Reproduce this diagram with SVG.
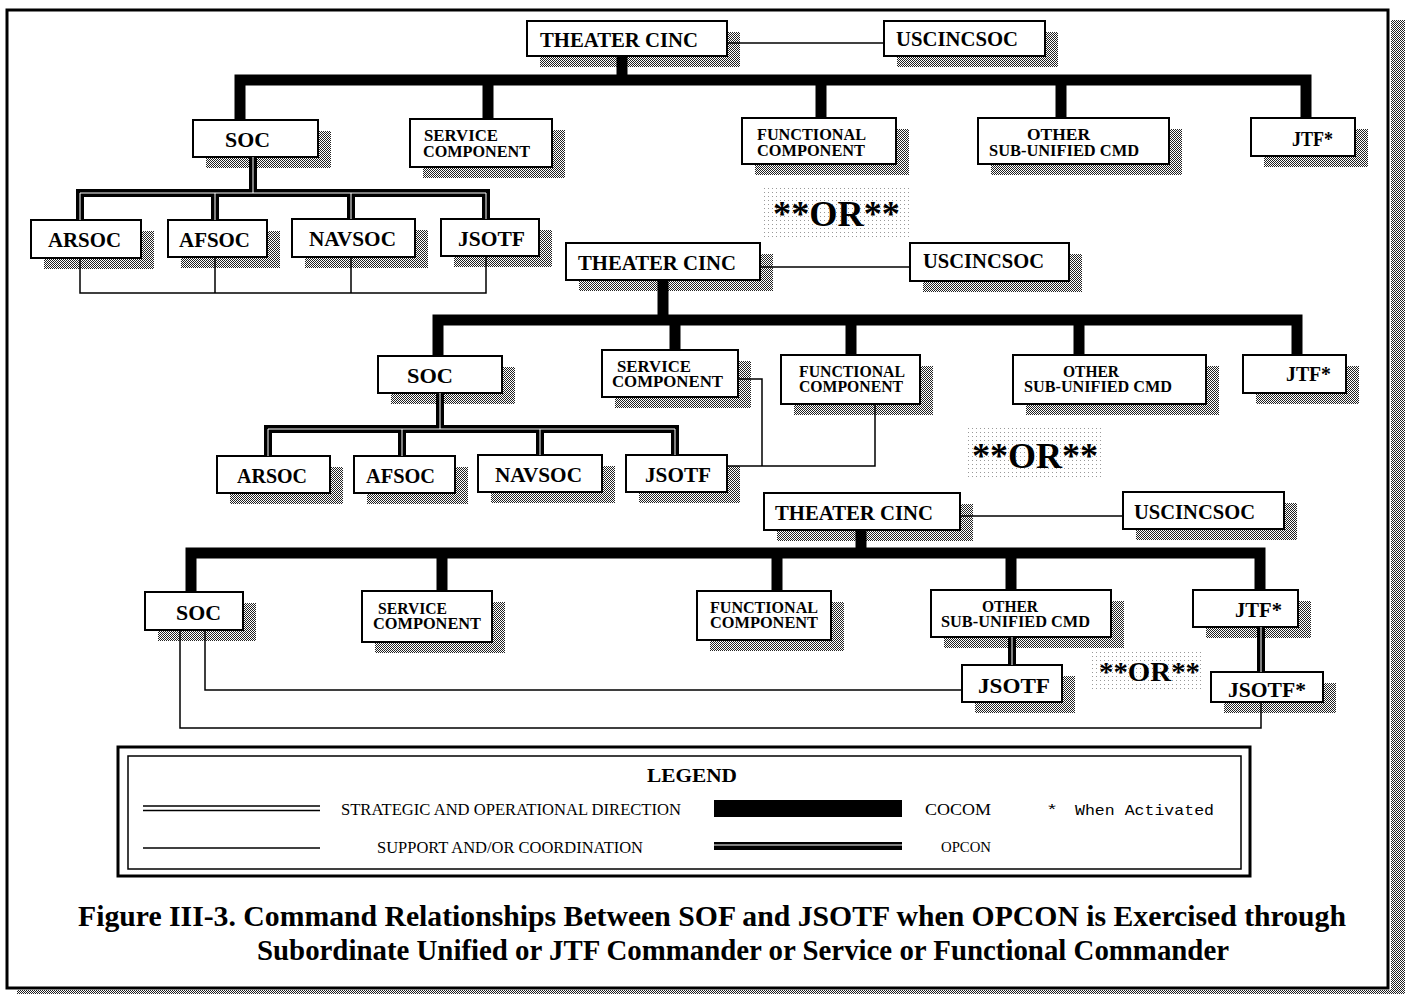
<svg xmlns="http://www.w3.org/2000/svg" width="1409" height="994" viewBox="0 0 1409 994">
<defs>
<pattern id="dither" width="2" height="2" patternUnits="userSpaceOnUse"><rect width="2" height="2" fill="#fff"/><rect width="1" height="1" fill="#222"/><rect x="1" y="1" width="1" height="1" fill="#222"/></pattern>
<pattern id="stip" width="4" height="4" patternUnits="userSpaceOnUse"><rect width="1" height="1" fill="#999"/></pattern>
<style>
.bx{fill:#fff;stroke:#000;stroke-width:2}
.sh{fill:url(#dither)}
.t{font-family:"Liberation Serif","Times New Roman",serif;font-weight:bold;fill:#000}
.big{font-size:22px}
.sm{font-size:16px}
.or{font-size:36px}
.lg{font-family:"Liberation Serif","Times New Roman",serif;font-size:16px;fill:#000}
.mono{font-family:"Liberation Mono","Courier New",monospace;font-size:15px;fill:#000}
.cocom{stroke:#000;stroke-width:11;fill:none;stroke-linejoin:miter}
.opk{stroke:#000;stroke-width:8;fill:none}
.opw{stroke:#fff;stroke-width:1;fill:none}
.sup{stroke:#000;stroke-width:1.5;fill:none}
</style>
</defs>
<rect width="1409" height="994" fill="#fff"/>
<g id="frame">
<rect x="1391" y="20" width="14" height="974" class="sh"/>
<rect x="17" y="990" width="1388" height="4" class="sh"/>
<rect x="7" y="10" width="1381" height="978" fill="none" stroke="#000" stroke-width="3"/>
</g>

<g id="or1"><rect x="764" y="187" width="145" height="53" fill="url(#stip)"/><text class="t or" x="773" y="226" textLength="127" lengthAdjust="spacingAndGlyphs">**OR**</text></g>
<g id="or2"><rect x="967" y="428" width="137" height="49" fill="url(#stip)"/><text class="t or" x="972" y="468" textLength="126" lengthAdjust="spacingAndGlyphs">**OR**</text></g>
<g id="or3"><rect x="1089" y="650" width="113" height="40" fill="url(#stip)"/><text class="t" style="font-size:28px" x="1099" y="681" textLength="101" lengthAdjust="spacingAndGlyphs">**OR**</text></g>

<g id="s1-theater"><rect class="sh" x="540" y="32" width="200" height="35"/><rect class="bx" x="527" y="21" width="200" height="35"/><text class="t big" x="540" y="47" textLength="158" lengthAdjust="spacingAndGlyphs">THEATER CINC</text></g>
<g id="s1-uscincsoc"><rect class="sh" x="897" y="32" width="161" height="35"/><rect class="bx" x="884" y="21" width="161" height="35"/><text class="t big" x="896" y="46" textLength="122" lengthAdjust="spacingAndGlyphs">USCINCSOC</text></g>
<g id="s1-soc"><rect class="sh" x="206" y="131" width="125" height="37"/><rect class="bx" x="193" y="120" width="125" height="37"/><text class="t big" x="225" y="147" textLength="45" lengthAdjust="spacingAndGlyphs">SOC</text></g>
<g id="s1-service"><rect class="sh" x="423" y="130" width="142" height="48"/><rect class="bx" x="410" y="119" width="142" height="48"/><text class="t sm" x="424" y="141" textLength="74" lengthAdjust="spacingAndGlyphs">SERVICE</text><text class="t sm" x="423" y="157" textLength="107" lengthAdjust="spacingAndGlyphs">COMPONENT</text></g>
<g id="s1-functional"><rect class="sh" x="755" y="129" width="154" height="46"/><rect class="bx" x="742" y="118" width="154" height="46"/><text class="t sm" x="757" y="140" textLength="109" lengthAdjust="spacingAndGlyphs">FUNCTIONAL</text><text class="t sm" x="757" y="156" textLength="108" lengthAdjust="spacingAndGlyphs">COMPONENT</text></g>
<g id="s1-other"><rect class="sh" x="991" y="129" width="191" height="46"/><rect class="bx" x="978" y="118" width="191" height="46"/><text class="t sm" x="1027" y="140" textLength="63" lengthAdjust="spacingAndGlyphs">OTHER</text><text class="t sm" x="989" y="156" textLength="150" lengthAdjust="spacingAndGlyphs">SUB-UNIFIED CMD</text></g>
<g id="s1-jtf"><rect class="sh" x="1264" y="129" width="104" height="38"/><rect class="bx" x="1251" y="118" width="104" height="38"/><text class="t big" x="1292" y="146" textLength="41" lengthAdjust="spacingAndGlyphs">JTF*</text></g>
<g id="s1-arsoc"><rect class="sh" x="44" y="231" width="110" height="38"/><rect class="bx" x="31" y="220" width="110" height="38"/><text class="t big" x="48" y="247" textLength="73" lengthAdjust="spacingAndGlyphs">ARSOC</text></g>
<g id="s1-afsoc"><rect class="sh" x="181" y="231" width="99" height="37"/><rect class="bx" x="168" y="220" width="99" height="37"/><text class="t big" x="179" y="247" textLength="71" lengthAdjust="spacingAndGlyphs">AFSOC</text></g>
<g id="s1-navsoc"><rect class="sh" x="305" y="230" width="123" height="38"/><rect class="bx" x="292" y="219" width="123" height="38"/><text class="t big" x="309" y="246" textLength="87" lengthAdjust="spacingAndGlyphs">NAVSOC</text></g>
<g id="s1-jsotf"><rect class="sh" x="454" y="230" width="98" height="37"/><rect class="bx" x="441" y="219" width="98" height="37"/><text class="t big" x="458" y="246" textLength="67" lengthAdjust="spacingAndGlyphs">JSOTF</text></g>

<g id="s2-theater"><rect class="sh" x="579" y="254" width="194" height="37"/><rect class="bx" x="566" y="243" width="194" height="37"/><text class="t big" x="578" y="270" textLength="158" lengthAdjust="spacingAndGlyphs">THEATER CINC</text></g>
<g id="s2-uscincsoc"><rect class="sh" x="923" y="254" width="159" height="38"/><rect class="bx" x="910" y="243" width="159" height="38"/><text class="t big" x="923" y="268" textLength="121" lengthAdjust="spacingAndGlyphs">USCINCSOC</text></g>
<g id="s2-soc"><rect class="sh" x="391" y="367" width="124" height="37"/><rect class="bx" x="378" y="356" width="124" height="37"/><text class="t big" x="407" y="383" textLength="46" lengthAdjust="spacingAndGlyphs">SOC</text></g>
<g id="s2-service"><rect class="sh" x="615" y="361" width="136" height="47"/><rect class="bx" x="602" y="350" width="136" height="47"/><text class="t sm" x="617" y="372" textLength="74" lengthAdjust="spacingAndGlyphs">SERVICE</text><text class="t sm" x="612" y="387" textLength="111" lengthAdjust="spacingAndGlyphs">COMPONENT</text></g>
<g id="s2-functional"><rect class="sh" x="794" y="366" width="139" height="49"/><rect class="bx" x="781" y="355" width="139" height="49"/><text class="t sm" x="799" y="377" textLength="106" lengthAdjust="spacingAndGlyphs">FUNCTIONAL</text><text class="t sm" x="799" y="392" textLength="104" lengthAdjust="spacingAndGlyphs">COMPONENT</text></g>
<g id="s2-other"><rect class="sh" x="1026" y="366" width="193" height="49"/><rect class="bx" x="1013" y="355" width="193" height="49"/><text class="t sm" x="1063" y="377" textLength="56" lengthAdjust="spacingAndGlyphs">OTHER</text><text class="t sm" x="1024" y="392" textLength="148" lengthAdjust="spacingAndGlyphs">SUB-UNIFIED CMD</text></g>
<g id="s2-jtf"><rect class="sh" x="1256" y="366" width="103" height="38"/><rect class="bx" x="1243" y="355" width="103" height="38"/><text class="t big" x="1286" y="381" textLength="45" lengthAdjust="spacingAndGlyphs">JTF*</text></g>
<g id="s2-arsoc"><rect class="sh" x="230" y="467" width="113" height="37"/><rect class="bx" x="217" y="456" width="113" height="37"/><text class="t big" x="237" y="483" textLength="70" lengthAdjust="spacingAndGlyphs">ARSOC</text></g>
<g id="s2-afsoc"><rect class="sh" x="367" y="467" width="101" height="37"/><rect class="bx" x="354" y="456" width="101" height="37"/><text class="t big" x="366" y="483" textLength="69" lengthAdjust="spacingAndGlyphs">AFSOC</text></g>
<g id="s2-navsoc"><rect class="sh" x="491" y="466" width="124" height="37"/><rect class="bx" x="478" y="455" width="124" height="37"/><text class="t big" x="495" y="482" textLength="87" lengthAdjust="spacingAndGlyphs">NAVSOC</text></g>
<g id="s2-jsotf"><rect class="sh" x="639" y="466" width="101" height="37"/><rect class="bx" x="626" y="455" width="101" height="37"/><text class="t big" x="645" y="482" textLength="66" lengthAdjust="spacingAndGlyphs">JSOTF</text></g>

<g id="s3-theater"><rect class="sh" x="777" y="504" width="196" height="37"/><rect class="bx" x="764" y="493" width="196" height="37"/><text class="t big" x="775" y="520" textLength="158" lengthAdjust="spacingAndGlyphs">THEATER CINC</text></g>
<g id="s3-uscincsoc"><rect class="sh" x="1136" y="503" width="161" height="37"/><rect class="bx" x="1123" y="492" width="161" height="37"/><text class="t big" x="1134" y="519" textLength="121" lengthAdjust="spacingAndGlyphs">USCINCSOC</text></g>
<g id="s3-soc"><rect class="sh" x="158" y="603" width="98" height="38"/><rect class="bx" x="145" y="592" width="98" height="38"/><text class="t big" x="176" y="620" textLength="45" lengthAdjust="spacingAndGlyphs">SOC</text></g>
<g id="s3-service"><rect class="sh" x="375" y="602" width="130" height="51"/><rect class="bx" x="362" y="591" width="130" height="51"/><text class="t sm" x="378" y="614" textLength="69" lengthAdjust="spacingAndGlyphs">SERVICE</text><text class="t sm" x="373" y="629" textLength="108" lengthAdjust="spacingAndGlyphs">COMPONENT</text></g>
<g id="s3-functional"><rect class="sh" x="710" y="602" width="134" height="49"/><rect class="bx" x="697" y="591" width="134" height="49"/><text class="t sm" x="710" y="613" textLength="108" lengthAdjust="spacingAndGlyphs">FUNCTIONAL</text><text class="t sm" x="710" y="628" textLength="108" lengthAdjust="spacingAndGlyphs">COMPONENT</text></g>
<g id="s3-other"><rect class="sh" x="944" y="601" width="180" height="47"/><rect class="bx" x="931" y="590" width="180" height="47"/><text class="t sm" x="982" y="612" textLength="56" lengthAdjust="spacingAndGlyphs">OTHER</text><text class="t sm" x="941" y="627" textLength="149" lengthAdjust="spacingAndGlyphs">SUB-UNIFIED CMD</text></g>
<g id="s3-jtf"><rect class="sh" x="1206" y="601" width="105" height="37"/><rect class="bx" x="1193" y="590" width="105" height="37"/><text class="t big" x="1235" y="617" textLength="47" lengthAdjust="spacingAndGlyphs">JTF*</text></g>
<g id="s3-jsotf"><rect class="sh" x="975" y="676" width="100" height="37"/><rect class="bx" x="962" y="665" width="100" height="37"/><text class="t big" x="978" y="693" textLength="72" lengthAdjust="spacingAndGlyphs">JSOTF</text></g>
<g id="s3-jsotf-star"><rect class="sh" x="1224" y="683" width="112" height="30"/><rect class="bx" x="1211" y="672" width="112" height="30"/><text class="t big" x="1228" y="697" textLength="78" lengthAdjust="spacingAndGlyphs">JSOTF*</text></g>

<g id="connectors">
<path class="sup" d="M727 43 H884"/>
<path class="cocom" d="M622 56 V80"/>
<path class="cocom" d="M240 120 V80 H1306 V118"/>
<path class="cocom" d="M488 80 V119 M821 80 V118 M1061 80 V118"/>
<path class="opk" d="M253 157 V193 M80 220 V193 H486 V219 M215 193 V220 M351 193 V219"/>
<path class="opw" d="M253 157 V193 M80 220 V193 H486 V219 M215 193 V220 M351 193 V219"/>
<path class="sup" d="M80 258 V293 H486 V256 M215 257 V293 M351 257 V293"/>
<path class="sup" d="M760 267 H910"/>
<path class="cocom" d="M663 280 V320"/>
<path class="cocom" d="M438 356 V320 H1297 V355"/>
<path class="cocom" d="M675 320 V350 M851 320 V355 M1079 320 V355"/>
<path class="opk" d="M440 393 V429 M268 456 V429 H675 V455 M402 429 V456 M540 429 V455"/>
<path class="opw" d="M440 393 V429 M268 456 V429 H675 V455 M402 429 V456 M540 429 V455"/>
<path class="sup" d="M738 379 H762 V466 M727 466 H875 V404"/>
<path class="sup" d="M960 516 H1123"/>
<path class="cocom" d="M861 530 V553"/>
<path class="cocom" d="M191 592 V553 H1260 V590"/>
<path class="cocom" d="M442 553 V591 M777 553 V591 M1011 553 V590"/>
<path class="opk" d="M1012 637 V665 M1261 627 V672"/>
<path class="opw" d="M1012 637 V665 M1261 627 V672"/>
<path class="sup" d="M205 630 V690 H962 M180 630 V728 H1261 V702"/>
</g>

<g id="legend">
<rect x="118" y="747" width="1132" height="129" fill="none" stroke="#000" stroke-width="3"/>
<rect x="128" y="756" width="1113" height="113" fill="none" stroke="#000" stroke-width="1.5"/>
<text class="t" style="font-size:19px" x="647" y="782" textLength="90" lengthAdjust="spacingAndGlyphs">LEGEND</text>
<path d="M143 806 H320 M143 810.5 H320" stroke="#000" stroke-width="1.6" fill="none"/>
<text class="lg" x="341" y="815" textLength="340" lengthAdjust="spacingAndGlyphs">STRATEGIC AND OPERATIONAL DIRECTION</text>
<rect x="714" y="800" width="188" height="17" fill="#000"/>
<text class="lg" x="925" y="815" textLength="66" lengthAdjust="spacingAndGlyphs">COCOM</text>
<text class="mono" x="1046" y="815" textLength="12" lengthAdjust="spacingAndGlyphs">*</text>
<text class="mono" x="1075" y="815" textLength="139" lengthAdjust="spacingAndGlyphs">When Activated</text>
<path d="M143 848 H320" stroke="#000" stroke-width="1.6" fill="none"/>
<text class="lg" x="377" y="853" textLength="266" lengthAdjust="spacingAndGlyphs">SUPPORT AND/OR COORDINATION</text>
<path d="M714 846 H902" stroke="#000" stroke-width="8" fill="none"/>
<path d="M714 845 H902" stroke="#fff" stroke-width="1" fill="none"/>
<text class="lg" style="font-size:14px" x="941" y="852" textLength="50" lengthAdjust="spacingAndGlyphs">OPCON</text>
</g>

<g id="caption">
<text class="t" style="font-size:29px" x="78" y="926" textLength="1268" lengthAdjust="spacingAndGlyphs">Figure III-3.  Command  Relationships  Between SOF  and JSOTF when OPCON is Exercised through</text>
<text class="t" style="font-size:29px" x="257" y="960" textLength="972" lengthAdjust="spacingAndGlyphs">Subordinate Unified or JTF Commander or Service or Functional Commander</text>
</g>
</svg>
